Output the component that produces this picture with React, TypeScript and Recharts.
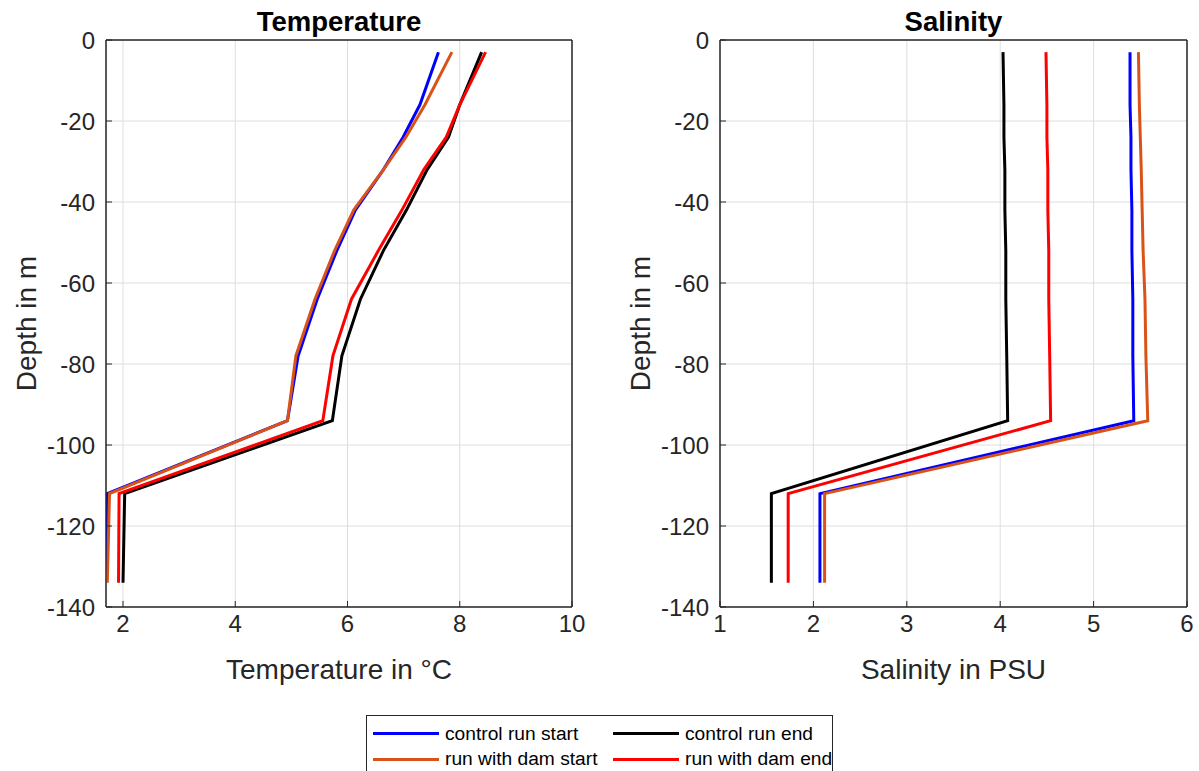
import React from "react";
import { LineChart, Line, XAxis, YAxis, CartesianGrid, ReferenceArea } from "recharts";

// depth levels (m) shared by both profiles
const depths = [-3, -16, -24, -32, -42, -52, -64, -78, -94, -112, -134];

const tempControlStart = [7.62, 7.29, 6.99, 6.64, 6.14, 5.81, 5.46, 5.12, 4.93, 1.72, 1.69];
const tempDamStart = [7.86, 7.38, 7.04, 6.64, 6.11, 5.77, 5.42, 5.08, 4.93, 1.76, 1.72];
const tempControlEnd = [8.39, 8.0, 7.8, 7.42, 7.05, 6.64, 6.23, 5.9, 5.73, 2.03, 2.0];
const tempDamEnd = [8.46, 8.0, 7.76, 7.36, 6.97, 6.55, 6.07, 5.74, 5.56, 1.93, 1.92];

const salControlStart = [5.39, 5.39, 5.4, 5.4, 5.41, 5.41, 5.42, 5.42, 5.43, 2.07, 2.07];
const salDamStart = [5.48, 5.49, 5.5, 5.51, 5.52, 5.53, 5.55, 5.56, 5.58, 2.12, 2.12];
const salControlEnd = [4.03, 4.04, 4.04, 4.05, 4.05, 4.06, 4.06, 4.07, 4.08, 1.55, 1.55];
const salDamEnd = [4.49, 4.5, 4.5, 4.51, 4.51, 4.52, 4.52, 4.53, 4.54, 1.73, 1.73];

const tempTicks = [2, 4, 6, 8, 10];
const salTicks = [1, 2, 3, 4, 5, 6];
const depthTicks = [-140, -120, -100, -80, -60, -40, -20, 0];

const series = [
	{ key: "cs", name: "control run start", color: "#0000ff" },
	{ key: "ds", name: "run with dam start", color: "#d95319" },
	{ key: "ce", name: "control run end", color: "#000000" },
	{ key: "de", name: "run with dam end", color: "#ff0000" },
];

const buildRows = (cs: number[], ds: number[], ce: number[], de: number[]) =>
	depths.map((depth, i) => ({ depth, cs: cs[i], ds: ds[i], ce: ce[i], de: de[i] }));

const tempData = buildRows(tempControlStart, tempDamStart, tempControlEnd, tempDamEnd);
const salData = buildRows(salControlStart, salDamStart, salControlEnd, salDamEnd);

const axisColor = "#262626";
const font = "'Liberation Sans', Arial, Helvetica, sans-serif";

type PanelProps = {
	data: any[];
	domain: [number, number];
	ticks: number[];
	title: string;
	xLabel: string;
	left: number;
	plotWidth: number;
	rightMargin: number;
};

const Panel = ({ data, domain, ticks, title, xLabel, left, plotWidth, rightMargin }: PanelProps) => {
	const yAxisWidth = 106;
	const width = yAxisWidth + plotWidth + rightMargin;
	return (
		<div style={{ position: "absolute", left, top: 0, width }}>
			<div
				style={{
					position: "absolute",
					left: yAxisWidth,
					width: plotWidth,
					top: 7,
					textAlign: "center",
					fontFamily: font,
					fontWeight: "bold",
					fontSize: 27.5,
					lineHeight: "30px",
					color: "#000",
				}}
			>
				{title}
			</div>
			<LineChart
				layout="vertical"
				width={width}
				height={687}
				data={data}
				margin={{ top: 39, right: rightMargin - 1, left: 0, bottom: 0 }}
				style={{ fontFamily: font }}
			>
				<CartesianGrid stroke="#dedede" strokeWidth={1} />
				<XAxis
					type="number"
					domain={domain}
					ticks={ticks}
					allowDataOverflow
					height={80}
					stroke={axisColor}
					tickSize={-6}
					tickMargin={13.5}
					tick={{ fill: axisColor, fontSize: 24 }}
					label={{
						value: xLabel,
						position: "insideBottom",
						offset: 8,
						fill: axisColor,
						fontSize: 28,
					}}
				/>
				<XAxis
					xAxisId="top"
					orientation="top"
					type="number"
					domain={domain}
					ticks={ticks}
					allowDataOverflow
					height={1}
					stroke={axisColor}
					tickSize={-6}
					tick={false}
				/>
				<YAxis
					type="number"
					dataKey="depth"
					domain={[-140, 0]}
					ticks={depthTicks}
					allowDataOverflow
					reversed
					width={yAxisWidth}
					stroke={axisColor}
					tickSize={-6}
					tickMargin={17}
					tick={{ fill: axisColor, fontSize: 24 }}
					label={{
						value: "Depth in m",
						angle: -90,
						position: "insideLeft",
						offset: 26,
						fill: axisColor,
						fontSize: 28,
						style: { textAnchor: "middle" },
					}}
				/>
				<YAxis
					yAxisId="right"
					orientation="right"
					type="number"
					dataKey="depth"
					domain={[-140, 0]}
					ticks={depthTicks}
					allowDataOverflow
					reversed
					width={1}
					stroke={axisColor}
					tickSize={-6}
					tick={false}
				/>
				<ReferenceArea
					x1={domain[0]}
					x2={domain[1]}
					y1={-140}
					y2={0}
					fill="none"
					fillOpacity={0}
					stroke={axisColor}
					strokeWidth={1}
					ifOverflow="visible"
				/>
				{series.map((s) => (
					<Line
						key={s.key}
						dataKey={s.key}
						name={s.name}
						stroke={s.color}
						strokeWidth={3}
						dot={false}
						activeDot={false}
						type="linear"
						isAnimationActive={false}
					/>
				))}
			</LineChart>
		</div>
	);
};

const LegendBox = () => {
	const cols = [
		[series[0], series[1]],
		[series[2], series[3]],
	];
	return (
		<div
			style={{
				position: "absolute",
				left: 366,
				top: 715,
				width: 465,
				height: 57,
				border: `1px solid ${axisColor}`,
				background: "#fff",
				fontFamily: font,
				fontSize: 19.2,
				color: "#000",
			}}
		>
			{cols.map((col, ci) =>
				col.map((s, ri) => (
					<div
						key={s.key}
						style={{
							position: "absolute",
							left: 6 + ci * 240,
							top: 5 + ri * 25.6,
							height: 25,
							display: "flex",
							alignItems: "center",
							whiteSpace: "nowrap",
						}}
					>
						<div style={{ width: 66, height: 3, background: s.color, marginRight: 6 }} />
						<span>{s.name}</span>
					</div>
				))
			)}
		</div>
	);
};

export default function App() {
	return (
		<div
			style={{
				position: "absolute",
				left: 0,
				top: 0,
				width: 1199,
				height: 771,
				background: "#fff",
				overflow: "hidden",
			}}
		>
			<Panel
				data={tempData}
				domain={[1.697, 10]}
				ticks={tempTicks}
				title="Temperature"
				xLabel="Temperature in °C"
				left={0}
				plotWidth={466}
				rightMargin={20}
			/>
			<Panel
				data={salData}
				domain={[1, 6]}
				ticks={salTicks}
				title="Salinity"
				xLabel="Salinity in PSU"
				left={614}
				plotWidth={467}
				rightMargin={12}
			/>
			<LegendBox />
		</div>
	);
}
